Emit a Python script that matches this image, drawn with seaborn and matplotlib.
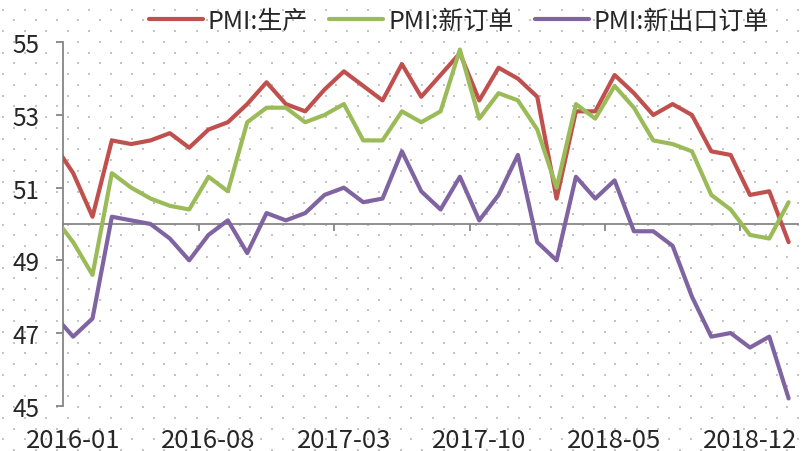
import numpy as np
import pandas as pd
import matplotlib
matplotlib.use("Agg")
import matplotlib.pyplot as plt
import seaborn as sns

# Monthly PMI sub-indices, 2015-12 .. 2019-02
months = pd.period_range("2015-12", "2019-02", freq="M").strftime("%Y-%m").tolist()

production = [52.2,
              51.4, 50.2, 52.3, 52.2, 52.3, 52.5, 52.1, 52.6, 52.8, 53.3, 53.9, 53.3,
              53.1, 53.7, 54.2, 53.8, 53.4, 54.4, 53.5, 54.1, 54.7, 53.4, 54.3, 54.0,
              53.5, 50.7, 53.1, 53.1, 54.1, 53.6, 53.0, 53.3, 53.0, 52.0, 51.9, 50.8,
              50.9, 49.5]
new_orders = [50.2,
              49.5, 48.6, 51.4, 51.0, 50.7, 50.5, 50.4, 51.3, 50.9, 52.8, 53.2, 53.2,
              52.8, 53.0, 53.3, 52.3, 52.3, 53.1, 52.8, 53.1, 54.8, 52.9, 53.6, 53.4,
              52.6, 51.0, 53.3, 52.9, 53.8, 53.2, 52.3, 52.2, 52.0, 50.8, 50.4, 49.7,
              49.6, 50.6]
export_orders = [47.5,
                 46.9, 47.4, 50.2, 50.1, 50.0, 49.6, 49.0, 49.7, 50.1, 49.2, 50.3, 50.1,
                 50.3, 50.8, 51.0, 50.6, 50.7, 52.0, 50.9, 50.4, 51.3, 50.1, 50.8, 51.9,
                 49.5, 49.0, 51.3, 50.7, 51.2, 49.8, 49.8, 49.4, 48.0, 46.9, 47.0, 46.6,
                 46.9, 45.2]

series_names = ["PMI:生产", "PMI:新订单", "PMI:新出口订单"]
series_colors = ["#C0504D", "#9BBB59", "#8064A2"]

y_ticks = [45, 47, 49, 51, 53, 55]
label_months = ["2016-01", "2016-08", "2017-03", "2017-10", "2018-05", "2018-12"]

# category position: 2016-01 sits at 0
pos = np.arange(len(months)) - 1
df = pd.concat([
    pd.DataFrame({"pos": pos, "month": months, "value": vals, "series": name})
    for name, vals in zip(series_names, [production, new_orders, export_orders])
], ignore_index=True)

sns.set_style("white")
plt.rcParams["font.family"] = ["Noto Sans CJK SC", "DejaVu Sans"]
plt.rcParams["font.weight"] = 500

W, H = 802, 452
fig = plt.figure(figsize=(W / 100, H / 100), dpi=100)

# dotted pattern fill behind the whole chart
bg = fig.add_axes([0, 0, 1, 1], zorder=-5)
bg.set_xlim(0, W)
bg.set_ylim(H, 0)
bg.axis("off")
step_y = 10.74
step_x = 2 * step_y
dx, dy = [], []
for k in range(int(H / step_y) + 2):
    x0 = 3.3 + (step_y if k % 2 == 0 else 0.0)
    xs = np.arange(x0, W + 1, step_x)
    dx.extend(xs)
    dy.extend([k * step_y] * len(xs))
bg.scatter(dx, dy, s=1.6, color="#C4C4C4", linewidths=0, marker="s")

ax = fig.add_axes([63.5 / W, 45.3 / H, (798.3 - 63.5) / W, (406.7 - 43.3) / H])
ax.patch.set_alpha(0)

sns.lineplot(data=df, x="pos", y="value", hue="series", hue_order=series_names,
             palette=series_colors, linewidth=3.0, ax=ax, zorder=3,
             solid_joinstyle="round", solid_capstyle="round")

ax.set_xlim(-0.5, len(months) - 1.5)
ax.set_ylim(45, 55)
ax.set_xlabel("")
ax.set_ylabel("")

axis_grey = "#868686"
for side in ["top", "right"]:
    ax.spines[side].set_visible(False)
ax.spines["left"].set_color(axis_grey)
ax.spines["left"].set_linewidth(1.3)
ax.spines["bottom"].set_position(("data", 50))
ax.spines["bottom"].set_color(axis_grey)
ax.spines["bottom"].set_linewidth(1.3)

ax.set_yticks(y_ticks)
ax.set_yticklabels([str(t) for t in y_ticks])
ax.tick_params(axis="y", direction="out", length=5, width=1.3, color=axis_grey,
               labelsize=17.5, pad=12.5, left=True)

# tick marks on the 50-line at category boundaries, labels along the bottom
label_pos = [months.index(m) - 1 for m in label_months]
ax.set_xticks([p - 0.5 for p in label_pos])
ax.tick_params(axis="x", direction="out", length=5, width=1.3, color=axis_grey,
               labelbottom=False, bottom=True)

sec = ax.secondary_xaxis(0)
sec.set_xticks(label_pos)
sec.set_xticklabels(label_months)
sec.tick_params(length=0, labelsize=18.5, pad=15)
sec.spines["bottom"].set_visible(False)

handles, labels = ax.get_legend_handles_labels()
ax.get_legend().remove()
fig.legend(handles, labels, loc="center", bbox_to_anchor=(459 / W, 1 - 22 / H),
           ncol=3, frameon=False, fontsize=18, handlelength=2.15,
           handletextpad=0.2, columnspacing=0.85)

fig.savefig("out.png", dpi=100)
